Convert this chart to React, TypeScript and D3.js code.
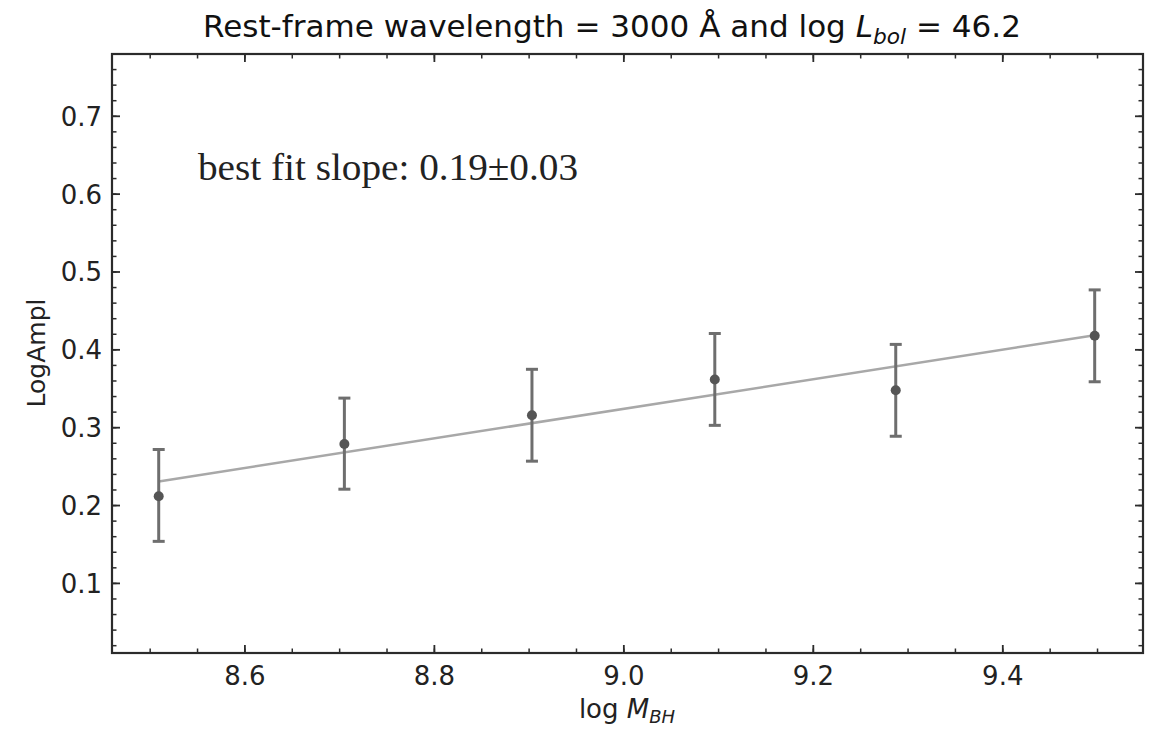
import React from "react";
import * as d3 from "d3";

// Binned measurements: log black-hole mass vs. log amplitude
const logMBH = [8.509, 8.705, 8.903, 9.096, 9.287, 9.497];
const logAmpl = [0.212, 0.279, 0.316, 0.362, 0.348, 0.418];
const errLow = [0.058, 0.058, 0.059, 0.059, 0.059, 0.059];
const errHigh = [0.060, 0.059, 0.059, 0.059, 0.059, 0.059];

// Linear fit
const fitSlope = 0.19;
const fitIntercept = -1.3857;

const xTicks = [8.6, 8.8, 9.0, 9.2, 9.4];
const yTicks = [0.1, 0.2, 0.3, 0.4, 0.5, 0.6, 0.7];

const W = 1158;
const H = 732;
const M = { left: 112, right: 1143, top: 54, bottom: 653 };

export default function App() {
  const x = d3.scaleLinear().domain([8.4597, 9.548]).range([M.left, M.right]);
  const y = d3.scaleLinear().domain([0.0106, 0.78]).range([M.bottom, M.top]);

  const xMinor = d3.range(8.45, 9.551, 0.05).filter((v) => x(v) > M.left + 1 && x(v) < M.right - 1);
  const yMinor = d3.range(0.02, 0.781, 0.02).filter((v) => y(v) < M.bottom - 1 && y(v) > M.top + 1);

  const fitLine = d3
    .line<number>()
    .x((d) => x(d))
    .y((d) => y(fitIntercept + fitSlope * d));

  const tickFont = "'DejaVu Sans', sans-serif";
  const axisColor = "#2b2b2b";
  const majorLen = 8;
  const minorLen = 4.5;

  return (
    <svg width={W} height={H} style={{ position: "absolute", left: 0, top: 0, background: "#fff" }}>
      <rect x={0} y={0} width={W} height={H} fill="#fff" />
      {/* title */}
      <text
        x={612}
        y={37}
        textAnchor="middle"
        fontFamily={tickFont}
        fontSize={30}
        fill="#111"
        textLength={818}
        lengthAdjust="spacingAndGlyphs"
      >
        Rest-frame wavelength = 3000 Å and log{" "}
        <tspan fontStyle="italic">L</tspan>
        <tspan fontStyle="italic" fontSize={21} dy={7}>bol</tspan>
        <tspan dy={-7}> = 46.2</tspan>
      </text>

      {/* fit line */}
      <path
        d={fitLine([logMBH[0], logMBH[logMBH.length - 1]]) || ""}
        stroke="#a8a8a8"
        strokeWidth={2.5}
        fill="none"
      />

      {/* error bars and points */}
      {logMBH.map((mx, i) => {
        const cx = x(mx);
        const yTop = y(logAmpl[i] + errHigh[i]);
        const yBot = y(logAmpl[i] - errLow[i]);
        return (
          <g key={i}>
            <line x1={cx} x2={cx} y1={yTop} y2={yBot} stroke="#6e6e6e" strokeWidth={3} />
            <line x1={cx - 6} x2={cx + 6} y1={yTop} y2={yTop} stroke="#6e6e6e" strokeWidth={3} />
            <line x1={cx - 6} x2={cx + 6} y1={yBot} y2={yBot} stroke="#6e6e6e" strokeWidth={3} />
            <circle cx={cx} cy={y(logAmpl[i])} r={5} fill="#555" />
          </g>
        );
      })}

      {/* annotation */}
      <text
        x={198}
        y={180}
        fontFamily="'Liberation Serif', serif"
        fontSize={37}
        fill="#222"
        textLength={380}
        lengthAdjust="spacingAndGlyphs"
      >
        best fit slope: 0.19±0.03
      </text>

      {/* ticks on all four sides, pointing inward */}
      {xMinor.map((v, i) => (
        <g key={"xm" + i} stroke={axisColor} strokeWidth={1.5}>
          <line x1={x(v)} x2={x(v)} y1={M.bottom} y2={M.bottom - minorLen} />
          <line x1={x(v)} x2={x(v)} y1={M.top} y2={M.top + minorLen} />
        </g>
      ))}
      {xTicks.map((v, i) => (
        <g key={"xt" + i}>
          <line x1={x(v)} x2={x(v)} y1={M.bottom} y2={M.bottom - majorLen} stroke={axisColor} strokeWidth={1.8} />
          <line x1={x(v)} x2={x(v)} y1={M.top} y2={M.top + majorLen} stroke={axisColor} strokeWidth={1.8} />
          <text x={x(v)} y={M.bottom + 32} textAnchor="middle" fontFamily={tickFont} fontSize={26} fill="#222">
            {v.toFixed(1)}
          </text>
        </g>
      ))}
      {yMinor.map((v, i) => (
        <g key={"ym" + i} stroke={axisColor} strokeWidth={1.5}>
          <line x1={M.left} x2={M.left + minorLen} y1={y(v)} y2={y(v)} />
          <line x1={M.right} x2={M.right - minorLen} y1={y(v)} y2={y(v)} />
        </g>
      ))}
      {yTicks.map((v, i) => (
        <g key={"yt" + i}>
          <line x1={M.left} x2={M.left + majorLen} y1={y(v)} y2={y(v)} stroke={axisColor} strokeWidth={1.8} />
          <line x1={M.right} x2={M.right - majorLen} y1={y(v)} y2={y(v)} stroke={axisColor} strokeWidth={1.8} />
          <text x={M.left - 10} y={y(v) + 9.5} textAnchor="end" fontFamily={tickFont} fontSize={26} fill="#222">
            {v.toFixed(1)}
          </text>
        </g>
      ))}

      {/* frame */}
      <rect
        x={M.left}
        y={M.top}
        width={M.right - M.left}
        height={M.bottom - M.top}
        fill="none"
        stroke={axisColor}
        strokeWidth={2.2}
      />

      {/* axis labels */}
      <text x={627} y={718} textAnchor="middle" fontFamily={tickFont} fontSize={26} fill="#222">
        log <tspan fontStyle="italic">M</tspan>
        <tspan fontStyle="italic" fontSize={18} dy={5}>BH</tspan>
      </text>
      <text
        transform={`translate(45, 353) rotate(-90)`}
        textAnchor="middle"
        fontFamily={tickFont}
        fontSize={25}
        fill="#222"
      >
        LogAmpl
      </text>
    </svg>
  );
}
